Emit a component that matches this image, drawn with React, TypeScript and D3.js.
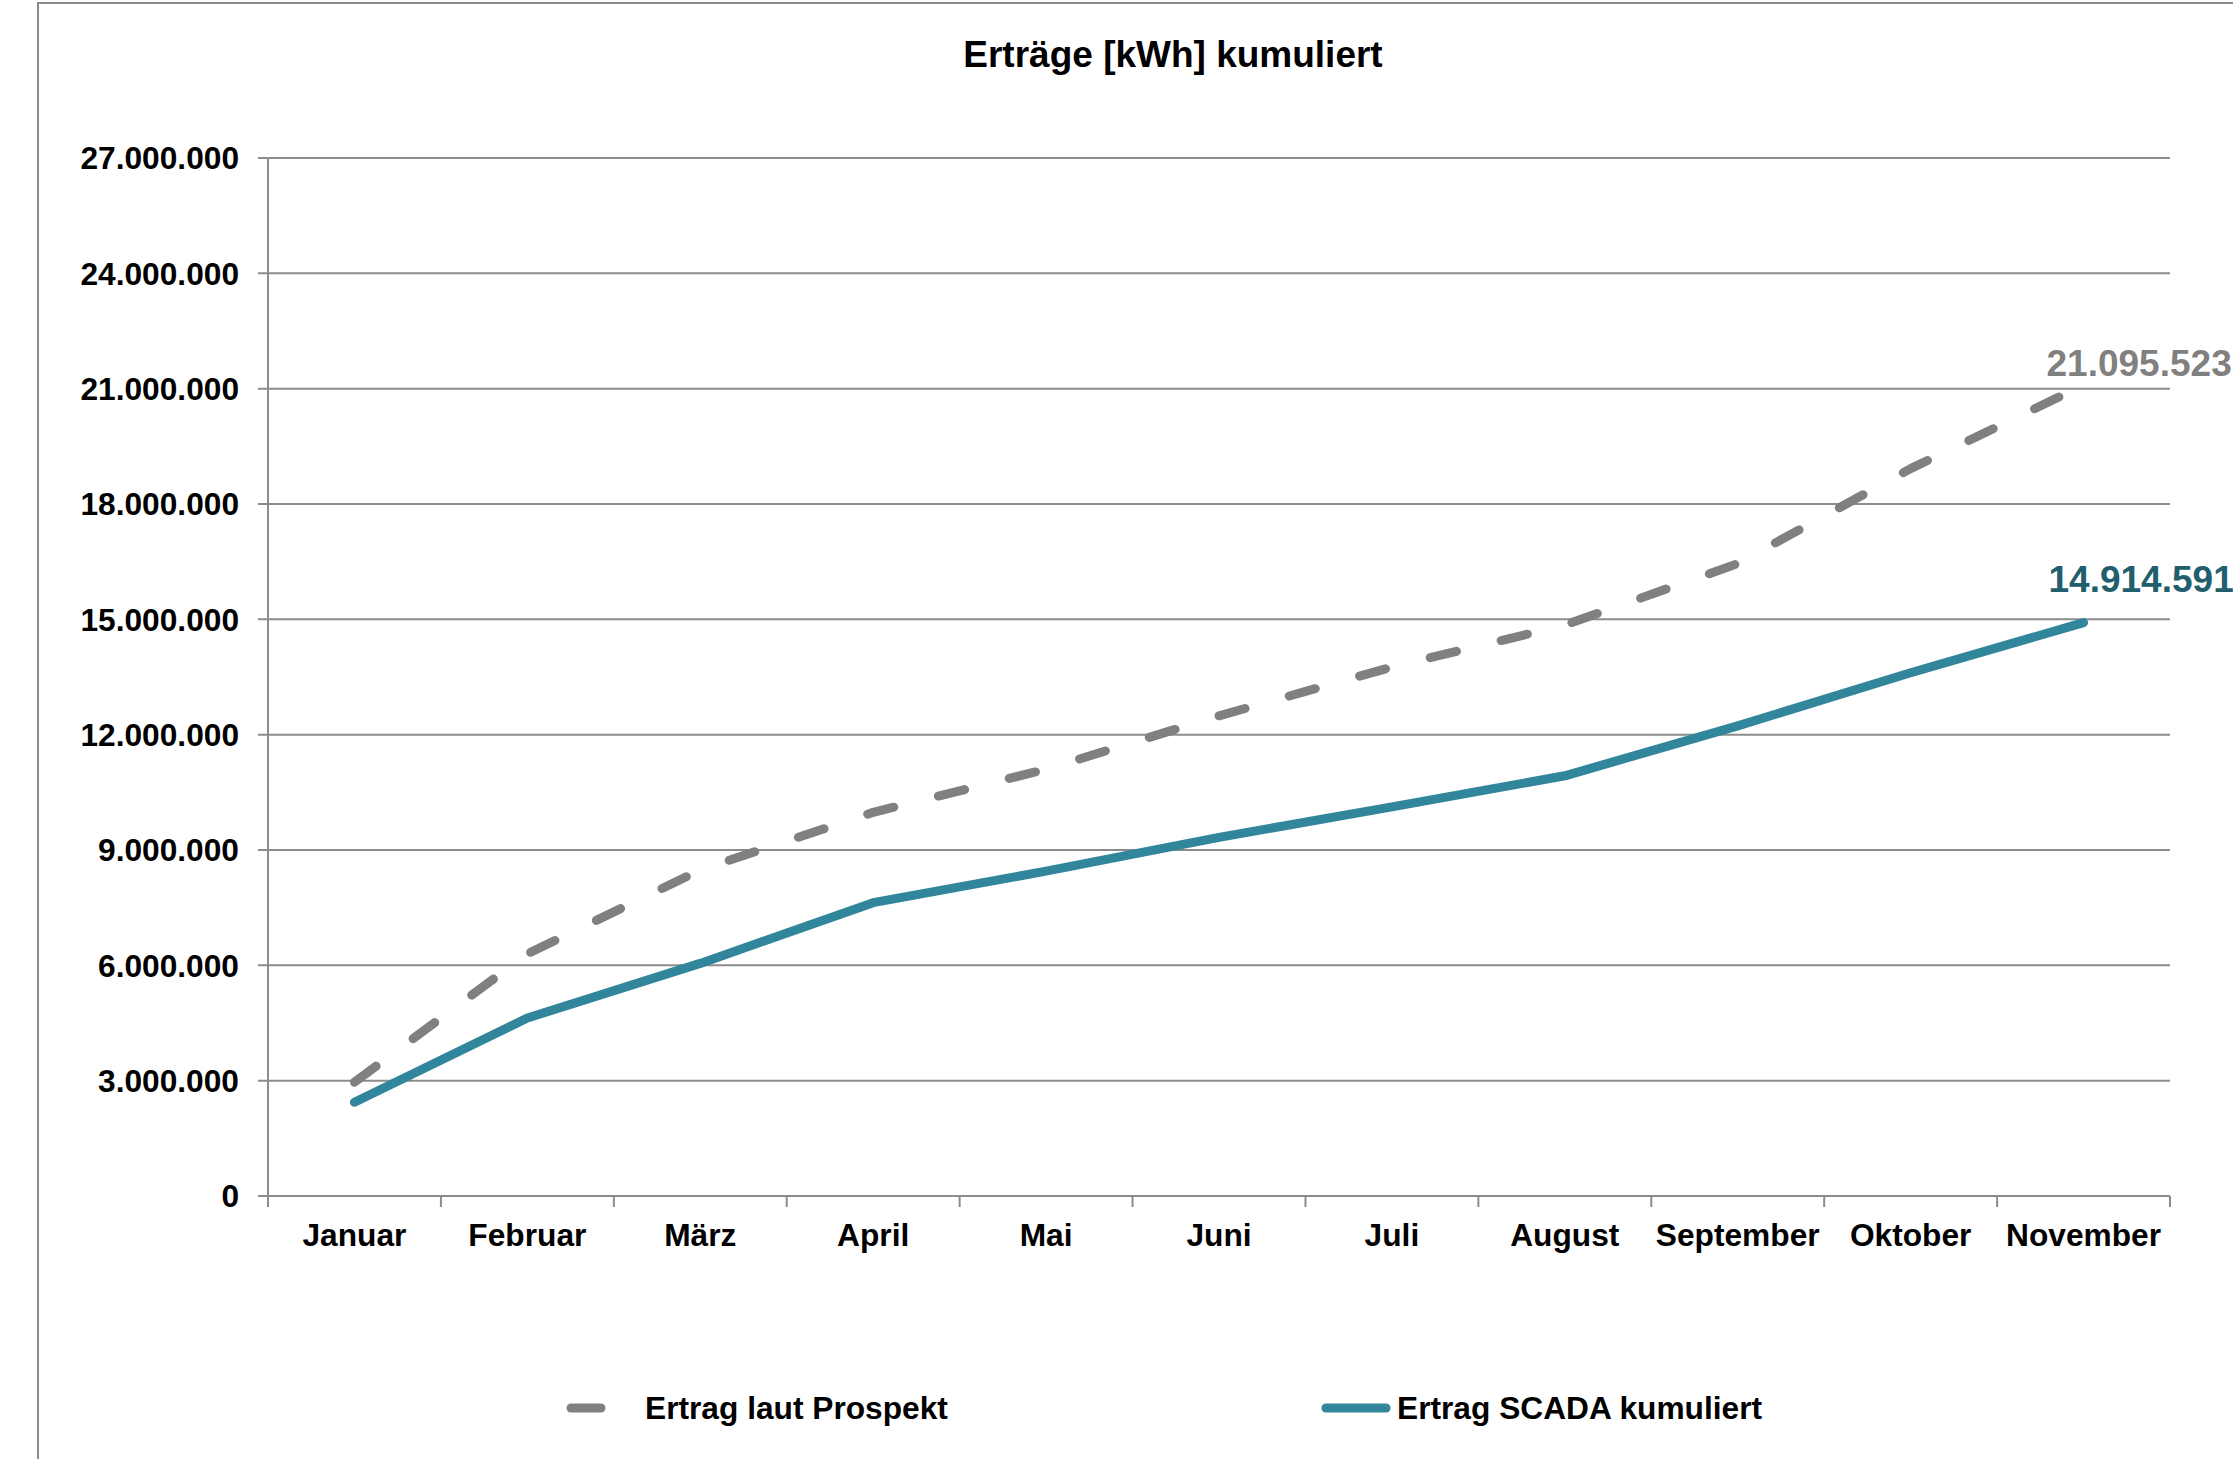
import React from "react";
import * as d3 from "d3";

const months = ["Januar", "Februar", "März", "April", "Mai", "Juni", "Juli", "August", "September", "Oktober", "November"];
const prospekt = [2960000, 6300000, 8480000, 9980000, 11100000, 12490000, 13760000, 14850000, 16450000, 18920000, 21095523];
const scada = [2440000, 4630000, 6050000, 7630000, 8450000, 9330000, 10120000, 10930000, 12230000, 13610000, 14914591];
const yTicks = [0, 3000000, 6000000, 9000000, 12000000, 15000000, 18000000, 21000000, 24000000, 27000000];
const title = "Erträge [kWh] kumuliert";
const seriesNames = ["Ertrag laut Prospekt", "Ertrag SCADA kumuliert"];

const W = 2233, H = 1459;
const FONT = "'Liberation Sans', Arial, sans-serif";
const GRAY = "#808080";
const TEAL = "#31869B";
const TEAL_DARK = "#215E6E";
const GRID = "#8C8C8C";
const FS = 31.7;

const de = d3.formatLocale({ decimal: ",", thousands: ".", grouping: [3], currency: ["", "€"] });
const fmt = de.format(",d");

export default function App() {
  const left = 268, right = 2170, top = 158, bottom = 1196;
  const x = d3.scaleBand<string>().domain(months).range([left, right]).padding(0);
  const y = d3.scaleLinear().domain([0, 27000000]).range([bottom, top]);
  const cx = (m: string) => (x(m) as number) + x.bandwidth() / 2;

  const line = d3.line<number>().x((_, i) => cx(months[i])).y((d) => y(d));

  const lastI = months.length - 1;
  const boundaries = months.map((m) => x(m) as number).concat([right]);

  return (
    <div style={{ position: "fixed", left: 0, top: 0, width: W, height: H, background: "#fff" }}>
      <svg width={W} height={H} style={{ display: "block" }} fontFamily={FONT}>
        <rect x={0} y={0} width={W} height={H} fill="#fff" />
        <rect x={38} y={3} width={W + 100} height={H + 100} fill="none" stroke="#8a8a8a" strokeWidth={2} />
        <text x={1173} y={67} textAnchor="middle" fontSize={37} fontWeight="bold" fill="#000">{title}</text>

        {yTicks.map((t) => (
          <g key={t}>
            <line x1={left - 10} x2={right} y1={y(t)} y2={y(t)} stroke={GRID} strokeWidth={2} />
            <text x={239} y={y(t)} dy="0.36em" textAnchor="end" fontSize={FS} fontWeight="bold" fill="#000">{fmt(t)}</text>
          </g>
        ))}
        <line x1={left} x2={left} y1={top} y2={bottom} stroke={GRID} strokeWidth={2} />
        {boundaries.map((b, i) => (
          <line key={i} x1={b} x2={b} y1={bottom} y2={bottom + 11} stroke={GRID} strokeWidth={2} />
        ))}
        {months.map((m) => (
          <text key={m} x={cx(m)} y={1246} textAnchor="middle" fontSize={FS} fontWeight="bold" fill="#000">{m}</text>
        ))}

        <path d={line(prospekt) || ""} fill="none" stroke={GRAY} strokeWidth={9} strokeDasharray="27 46" strokeLinecap="round" strokeLinejoin="round" />
        <path d={line(scada) || ""} fill="none" stroke={TEAL} strokeWidth={9} strokeLinecap="round" strokeLinejoin="round" />

        <text x={cx(months[lastI]) - 37} y={376} fontSize={37} fontWeight="bold" fill={GRAY}>{fmt(prospekt[lastI])}</text>
        <text x={cx(months[lastI]) - 35} y={592} fontSize={37} fontWeight="bold" fill={TEAL_DARK}>{fmt(scada[lastI])}</text>

        <line x1={571} x2={601} y1={1408} y2={1408} stroke={GRAY} strokeWidth={9} strokeLinecap="round" />
        <text x={645} y={1408} dy="0.36em" fontSize={FS} fontWeight="bold" fill="#000">{seriesNames[0]}</text>
        <line x1={1326} x2={1386} y1={1408} y2={1408} stroke={TEAL} strokeWidth={9} strokeLinecap="round" />
        <text x={1397} y={1408} dy="0.36em" fontSize={FS} fontWeight="bold" fill="#000">{seriesNames[1]}</text>
      </svg>
    </div>
  );
}
